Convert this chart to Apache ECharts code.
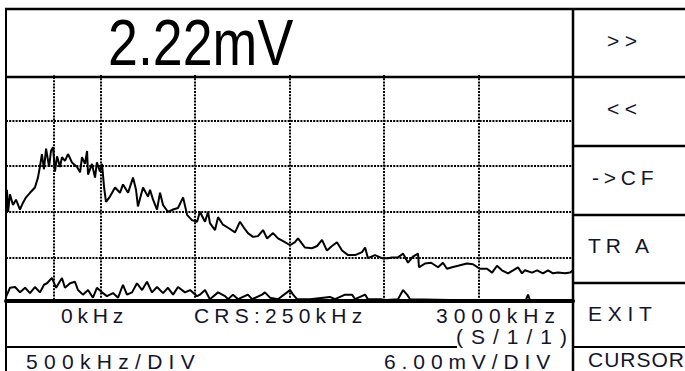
<!DOCTYPE html>
<html>
<head>
<meta charset="utf-8">
<script src="https://cdn.jsdelivr.net/npm/echarts@6/dist/echarts.min.js"></script>
<style>
  html, body { margin: 0; padding: 0; background: #fff; }
  #chart { width: 685px; height: 371px; }
</style>
</head>
<body>
<div id="chart"></div>
<script>
// frequency axis (kHz) and level axis (mV), 6 x 5 divisions
const freqRange = [0, 3000];
const freqStep = 500;
const levelRange = [0, 30];
const levelStep = 6;
const cursorFreq = 250;

// upper trace: spectrum
const spectrumFreq = [
  0, 5, 11, 21, 37, 53, 74, 90, 106, 127,
  153, 169, 180, 190, 201, 212, 228, 238, 249, 259,
  270, 286, 296, 312, 328, 349, 376, 392, 402, 418,
  429, 434, 455, 471, 481, 497, 508, 519, 529, 550,
  577, 603, 619, 646, 672, 688, 698, 725, 751, 762,
  778, 799, 815, 831, 857, 884, 910, 937, 958, 984,
  1011, 1026, 1053, 1069, 1079, 1106, 1122, 1148, 1175, 1212,
  1238, 1259, 1280, 1307, 1333, 1360, 1381, 1413, 1439, 1476,
  1503, 1529, 1545, 1582, 1619, 1646, 1672, 1698, 1725, 1751,
  1778, 1810, 1847, 1884, 1900, 1915, 1952, 1990, 2021, 2042,
  2074, 2101, 2127, 2153, 2180, 2185, 2217, 2249, 2286, 2312,
  2333, 2360, 2392, 2439, 2471, 2508, 2545, 2572, 2598, 2624,
  2656, 2683, 2709, 2730, 2746, 2783, 2810, 2841, 2868, 2894,
  2921, 2958, 2984, 3000
];
const spectrumLevel = [
  12.9, 14.9, 12.0, 14.3, 12.9, 13.6, 12.3, 13.2, 13.9, 14.5,
  15.2, 16.5, 18.0, 19.6, 17.6, 20.3, 17.9, 20.0, 20.5, 17.3,
  19.3, 17.9, 19.2, 18.7, 19.6, 18.5, 17.9, 17.2, 19.2, 18.3,
  20.0, 16.9, 18.3, 16.5, 18.5, 17.3, 18.3, 15.2, 13.3, 14.0,
  15.2, 14.5, 15.6, 14.5, 16.5, 14.9, 12.7, 15.2, 14.0, 14.9,
  13.6, 12.3, 14.5, 12.9, 12.0, 12.3, 12.5, 13.9, 11.6, 10.9,
  10.7, 12.0, 10.7, 12.0, 10.5, 9.6, 11.3, 10.3, 9.9, 9.3,
  10.7, 9.9, 9.2, 8.7, 8.8, 9.6, 8.5, 9.2, 8.5, 8.0,
  7.6, 8.0, 8.5, 7.3, 7.2, 7.5, 8.3, 6.9, 7.5, 8.0,
  6.9, 6.3, 6.3, 6.7, 7.3, 5.9, 6.3, 5.9, 5.9, 6.0,
  6.0, 6.5, 5.3, 6.1, 6.5, 4.7, 5.2, 5.3, 4.7, 5.3,
  4.5, 4.7, 4.9, 5.2, 5.1, 4.5, 4.5, 4.0, 4.9, 4.3,
  3.9, 4.3, 4.7, 3.9, 4.3, 4.0, 4.3, 3.9, 4.3, 3.9,
  4.0, 3.9, 4.0, 4.3
];

// lower trace: noise floor
const noiseFreq = [
  0, 21, 48, 74, 101, 127, 153, 180, 201, 217,
  243, 265, 296, 312, 339, 365, 381, 407, 434, 460,
  481, 508, 534, 566, 593, 619, 640, 667, 693, 720,
  746, 772, 799, 831, 857, 884, 910, 947, 974, 1011,
  1026, 1053, 1079, 1122, 1159, 1175, 1201, 1228, 1280, 1302,
  1355, 1370, 1397, 1439, 1503, 1519, 1540, 1608, 1714, 1741,
  1794, 1831, 1847, 1900, 1915, 1979, 2016, 2074, 2101, 2122,
  2138, 2349, 2614, 2751, 2762, 2772, 3000
];
const noiseLevel = [
  0.8, 2.0, 2.1, 1.4, 2.0, 1.3, 2.1, 1.4, 2.4, 2.6,
  3.3, 2.0, 3.3, 2.0, 2.6, 2.8, 1.7, 1.1, 1.7, 0.7,
  2.0, 1.4, 0.9, 1.3, 0.7, 2.4, 1.1, 1.4, 2.6, 1.7,
  2.8, 1.4, 2.1, 1.3, 2.0, 1.1, 2.1, 1.4, 1.7, 0.9,
  1.1, 1.7, 0.5, 1.4, 0.9, 0.5, 1.1, 0.5, 1.1, 0.5,
  1.1, 1.4, 0.7, 0.5, 1.7, 1.1, 0.5, 0.5, 0.8, 0.5,
  1.1, 1.1, 0.5, 1.1, 0.5, 0.5, 0.4, 0.5, 1.7, 1.1,
  0.5, 0.4, 0.4, 0.4, 1.1, 0.4, 0.4
];

// screen texts
const readout = '2.22mV';
const startLabel = '0kHz';
const cursorLabel = 'CRS:250kHz';
const stopLabel = '3000kHz';
const modeLabel = '(S/1/1)';
const hDivLabel = '500kHz/DIV';
const vDivLabel = '6.00mV/DIV';
const softKeys = ['>>', '<<', '->CF', 'TR A', 'EXIT', 'CURSOR'];

// letter spacing of the instrument font (px)
const spacing = {
  '0kHz': 4.8, 'CRS:250kHz': 5.2, '3000kHz': 6, '(S/1/1)': 8,
  '500kHz/DIV': 6.3, '6.00mV/DIV': 5.9,
  '>>': 5.5, '<<': 5.5, '->CF': 4.8, 'TR A': 4.8, 'EXIT': 5.7, 'CURSOR': 1
};

const zip = (xs, ys) => xs.map((x, i) => [x, ys[i]]);

const FONT = '21px "Liberation Sans", Arial, sans-serif';
const INK = '#14142a';
const dotted = { color: '#000', width: 2, type: [2, 1.2] };

function txt(text, x, y, font, fill) {
  return {
    type: 'text', x: x, y: y, z: 20,
    style: {
      text: text, font: font || FONT, fill: fill || INK,
      textAlign: 'left', textVerticalAlign: 'middle', verticalAlign: 'middle'
    }
  };
}
function line(x1, y1, x2, y2, w) {
  return {
    type: 'line', z: 20,
    shape: { x1: x1, y1: y1, x2: x2, y2: y2 },
    style: { stroke: '#000', lineWidth: w || 2.5 }
  };
}

const keyY = [40, 108, 177, 245, 313, 359];
const keyX = [607, 607, 592, 588, 588, 588];

// big readout, squeezed like the instrument font
const readoutText = txt(readout, 108, 43, '64px "Liberation Sans", Arial, sans-serif', '#000');
readoutText.scaleX = 0.84;

let myChart = echarts.init(document.getElementById('chart'), null, { renderer: 'svg' });
let option = {
  animation: false,
  backgroundColor: '#fff',
  grid: { left: 6, right: 112, top: 75, bottom: 68 },
  xAxis: {
    type: 'value',
    min: freqRange[0],
    max: freqRange[1],
    interval: freqStep,
    offset: -2,
    axisLabel: { show: false },
    axisTick: { show: false },
    axisLine: { show: true, lineStyle: { color: '#000', width: 4 } },
    splitLine: { show: true, showMinLine: false, showMaxLine: false, lineStyle: dotted }
  },
  yAxis: {
    type: 'value',
    min: levelRange[0],
    max: levelRange[1],
    interval: levelStep,
    axisLabel: { show: false },
    axisTick: { show: false },
    axisLine: { show: false },
    splitLine: { show: true, showMinLine: false, showMaxLine: false, lineStyle: dotted }
  },
  series: [
    {
      name: 'spectrum',
      type: 'line',
      showSymbol: false,
      data: zip(spectrumFreq, spectrumLevel),
      lineStyle: { color: '#000', width: 2 },
      markLine: {
        silent: true,
        symbol: 'none',
        label: { show: false },
        lineStyle: dotted,
        data: [{ xAxis: cursorFreq }]
      }
    },
    {
      name: 'noise',
      type: 'line',
      showSymbol: false,
      data: zip(noiseFreq, noiseLevel),
      lineStyle: { color: '#000', width: 2 }
    }
  ],
  graphic: [
    // frame
    line(5, 9, 685, 9),
    line(6, 8, 6, 371, 2),
    line(573, 8, 573, 371),
    line(6, 77, 685, 77),
    line(573, 146, 685, 146),
    line(573, 215, 685, 215),
    line(573, 283, 685, 283),
    line(6, 347, 457, 347, 2),
    line(573, 347, 685, 347, 2),
    readoutText,
    txt(startLabel, 61, 315),
    txt(cursorLabel, 194, 315),
    txt(stopLabel, 436, 315),
    txt(modeLabel, 456, 336),
    txt(hDivLabel, 26, 361),
    txt(vDivLabel, 384, 361)
  ].concat(softKeys.map((k, i) => txt(k, keyX[i], keyY[i])))
};
myChart.setOption(option);

function applySpacing() {
  myChart.getDom().querySelectorAll('text').forEach(t => {
    const ls = spacing[t.textContent];
    if (ls != null) t.setAttribute('letter-spacing', ls + 'px');
  });
}
applySpacing();
myChart.on('finished', applySpacing);
</script>
</body>
</html>
